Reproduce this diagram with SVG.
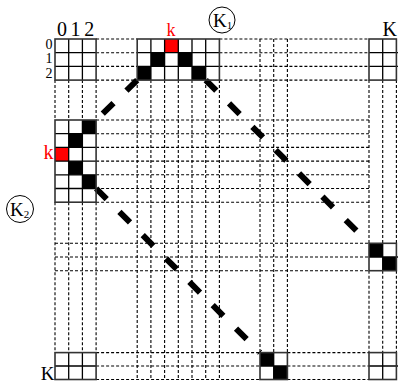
<svg xmlns="http://www.w3.org/2000/svg" width="398" height="383" viewBox="0 0 398 383">
<defs>
<style>
.g{stroke:#000;stroke-width:1.3;fill:none}
.gb{stroke:#333;stroke-width:1.6;fill:none}
.d{stroke:#000;stroke-width:1.1;stroke-dasharray:3 2;fill:none}
.t{stroke:#000;stroke-width:6;stroke-dasharray:15 18;fill:none}
.b{fill:#000}
.r{fill:#ff0000}
text{font-family:"Liberation Serif","Times New Roman",serif;fill:#000}
.red{fill:#ff0000}
</style>
</defs>
<rect width="398" height="383" fill="#fff"/>
<g id="dashed-grid" class="d">
<path d="M55,80.1V120M68.7,80.1V120M82.4,80.1V120M96.1,80.1V120"/>
<path d="M55,202.2V352.6M68.7,202.2V352.6M82.4,202.2V352.6M96.1,202.2V352.6"/>
<path d="M137.2,80.1V379.5M150.9,80.1V379.5M164.6,80.1V379.5M178.3,80.1V379.5M192,80.1V379.5M205.7,80.1V379.5M219.4,80.1V379.5"/>
<path d="M260,39V352.6M273.7,39V352.6M287.4,39V352.6"/>
<path d="M369,80.1V243.3M382.7,80.1V243.3M396.4,80.1V243.3"/>
<path d="M369,270.7V352.6M382.7,270.7V352.6M396.4,270.7V352.6"/>
<path d="M96.1,39H137.2M96.1,52.7H137.2M96.1,66.4H137.2M96.1,80.1H137.2"/>
<path d="M219.4,39H369M219.4,52.7H369M219.4,66.4H369M219.4,80.1H369"/>
<path d="M96.1,120H369M96.1,133.7H369M96.1,147.4H369M96.1,161.1H369M96.1,174.8H369M96.1,188.5H369M96.1,202.2H369"/>
<path d="M55,243.3H369M55,257H369M55,270.7H369"/>
<path d="M96.1,352.6H260M96.1,366H260M96.1,379.5H260M287.4,352.6H369M287.4,366H369M287.4,379.5H369"/>
</g>
<g id="connectors">
<path class="t" d="M137.2,80.1L96.1,120"/>
<path class="t" d="M96.1,188.5L260,352.6"/>
<path class="t" d="M205.7,80.1L369,243.3"/>
</g>
<g id="grid-top-left">
<path class="g" d="M68.7,39V80.1M82.4,39V80.1M55,52.7H96.1M55,66.4H96.1"/>
<rect class="gb" x="55" y="39" width="41.1" height="41.1"/>
</g>
<g id="grid-top-middle">
<rect class="r" x="164.6" y="39" width="13.7" height="13.7"/>
<rect class="b" x="150.9" y="52.7" width="13.7" height="13.7"/>
<rect class="b" x="178.3" y="52.7" width="13.7" height="13.7"/>
<rect class="b" x="137.2" y="66.4" width="13.7" height="13.7"/>
<rect class="b" x="192" y="66.4" width="13.7" height="13.7"/>
<path class="g" d="M150.9,39V80.1M164.6,39V80.1M178.3,39V80.1M192,39V80.1M205.7,39V80.1M137.2,52.7H219.4M137.2,66.4H219.4"/>
<rect class="gb" x="137.2" y="39" width="82.2" height="41.1"/>
</g>
<g id="grid-top-right">
<path class="g" d="M382.7,39V80.1M369,52.7H398M369,66.4H398"/>
<rect class="gb" x="369" y="39" width="27.4" height="41.1"/>
</g>
<g id="grid-left">
<rect class="b" x="82.4" y="120" width="13.7" height="13.7"/>
<rect class="b" x="68.7" y="133.7" width="13.7" height="13.7"/>
<rect class="r" x="55" y="147.4" width="13.7" height="13.7"/>
<rect class="b" x="68.7" y="161.1" width="13.7" height="13.7"/>
<rect class="b" x="82.4" y="174.8" width="13.7" height="13.7"/>
<path class="g" d="M68.7,120V202.2M82.4,120V202.2M55,133.7H96.1M55,147.4H96.1M55,161.1H96.1M55,174.8H96.1M55,188.5H96.1"/>
<rect class="gb" x="55" y="120" width="41.1" height="82.2"/>
</g>
<g id="grid-right-middle">
<rect class="b" x="369" y="243.3" width="13.7" height="13.7"/>
<rect class="b" x="382.7" y="257" width="13.7" height="13.7"/>
<path class="g" d="M382.7,243.3V270.7M369,257H398"/>
<rect class="gb" x="369" y="243.3" width="27.4" height="27.4"/>
</g>
<g id="grid-bottom-left">
<path class="g" d="M68.7,352.6V379.5M82.4,352.6V379.5M55,366H96.1"/>
<rect class="gb" x="55" y="352.6" width="41.1" height="26.9"/>
</g>
<g id="grid-bottom-middle">
<rect class="b" x="260" y="352.6" width="13.7" height="13.4"/>
<rect class="b" x="273.7" y="366" width="13.7" height="13.5"/>
<path class="g" d="M273.7,352.6V379.5M260,366H287.4"/>
<rect class="gb" x="260" y="352.6" width="27.4" height="26.9"/>
</g>
<g id="grid-bottom-right">
<path class="g" d="M382.7,352.6V379.5M369,366H398"/>
<rect class="gb" x="369" y="352.6" width="27.4" height="26.9"/>
</g>
<g id="labels">
<text x="61.9" y="35.5" font-size="20" text-anchor="middle">0</text>
<text x="75.6" y="35.5" font-size="20" text-anchor="middle">1</text>
<text x="89.3" y="35.5" font-size="20" text-anchor="middle">2</text>
<text x="52.5" y="48.5" font-size="14" text-anchor="end">0</text>
<text x="52.5" y="62.5" font-size="14" text-anchor="end">1</text>
<text x="52.5" y="78" font-size="14" text-anchor="end">2</text>
<text class="red" x="171" y="35.5" font-size="18" text-anchor="middle">k</text>
<text class="red" x="53.5" y="159" font-size="20" text-anchor="end">k</text>
<text x="382.5" y="36" font-size="20">K</text>
<text x="54.5" y="379.5" font-size="19" text-anchor="end">K</text>
</g>
<g id="k1">
<circle cx="222" cy="20" r="13" fill="none" stroke="#000" stroke-width="1"/>
<text x="213" y="27" font-size="19">K<tspan font-size="11" dy="2">1</tspan></text>
</g>
<g id="k2">
<circle cx="20" cy="209" r="13.5" fill="none" stroke="#000" stroke-width="1"/>
<text x="10" y="216" font-size="19">K<tspan font-size="11" dy="2">2</tspan></text>
</g>
</svg>
